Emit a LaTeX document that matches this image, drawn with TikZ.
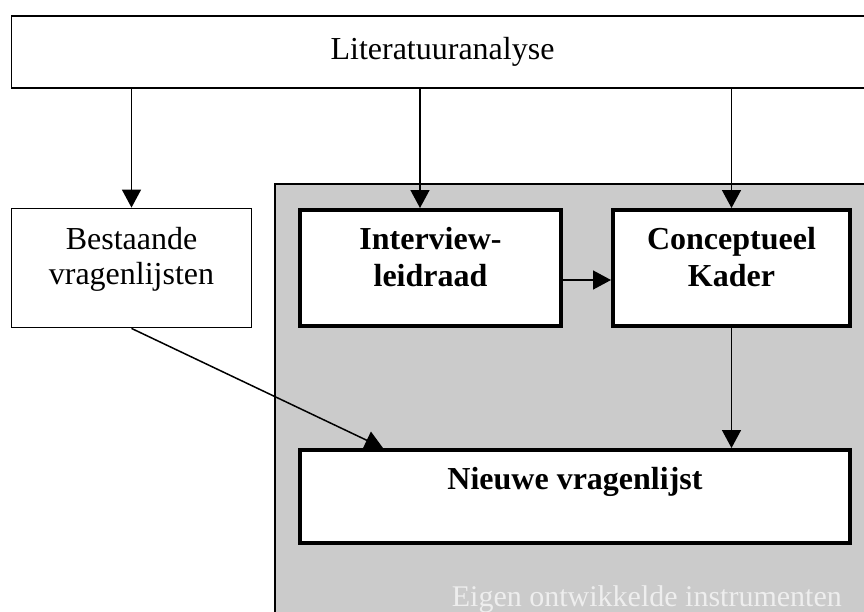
\documentclass[tikz,border=0pt]{standalone}
\usepackage{fontspec}
\setmainfont{Liberation Serif}
\usetikzlibrary{arrows.meta}
\definecolor{vlak}{RGB}{203,203,203}
\definecolor{vaag}{RGB}{238,238,238}
\tikzset{
	blok/.style={draw, line width=1.8pt, fill=white, align=center, inner sep=0pt,
		font=\fontsize{32}{35}\selectfont},
	dikblok/.style={blok, line width=4pt, font=\fontsize{32}{37}\selectfont\bfseries},
	pijl/.style={line width=1.5pt, -{Triangle[length=18pt,width=19pt]}},
}

\begin{document}
\begin{tikzpicture}[x=1pt,y=1pt]
			%%%%% START %%%%%
			\useasboundingbox (0,0) rectangle (864,-611);
			\clip (0,0) rectangle (864,-611);
			
			% grijs vlak
			\draw[line width=1.5pt, fill=vlak] (275,-184) rectangle (900,-640);
			\node[anchor=base east, text=vaag, inner sep=0pt, font=\fontsize{30}{30}\selectfont] (eigen) at (842,-606) {Eigen ontwikkelde instrumenten};
			
			\node[blok, minimum width=862pt, minimum height=72pt] (lit) at (442.5,-52) {Literatuuranalyse};
			
			\node[blok, minimum width=240pt, minimum height=119pt, text depth=24pt] (best) at (131.5,-268) {Bestaande\\vragenlijsten};
			\node[dikblok, minimum width=261pt, minimum height=116pt, text depth=23pt] (intv) at (430.5,-268) {Interview-\\leidraad};
			\node[dikblok, minimum width=237pt, minimum height=116pt, text depth=23pt] (konc) at (731.5,-268) {Conceptueel\\Kader};
			\node[dikblok, minimum width=550pt, minimum height=93pt, text depth=36pt] (nieuw) at (575,-496.5) {Nieuwe vragenlijst};
			
			\draw[pijl] (lit.south -| best.north) -- (best);
			\draw[pijl] ([xshift=-10.5pt]lit.south -| intv.north) -- ([xshift=-10.5pt]intv.north);
			\draw[pijl] (lit.south -| konc.north) -- (konc);
			\draw[pijl] ([yshift=-12pt]intv.east) -- ([yshift=-12pt]konc.west);
			\draw[pijl] (konc) -- (konc |- nieuw.north);
			\draw[pijl] (best.south) -- ([xshift=85pt]nieuw.north west);
			
			%%%%% END %%%%%
\end{tikzpicture}
\end{document}
